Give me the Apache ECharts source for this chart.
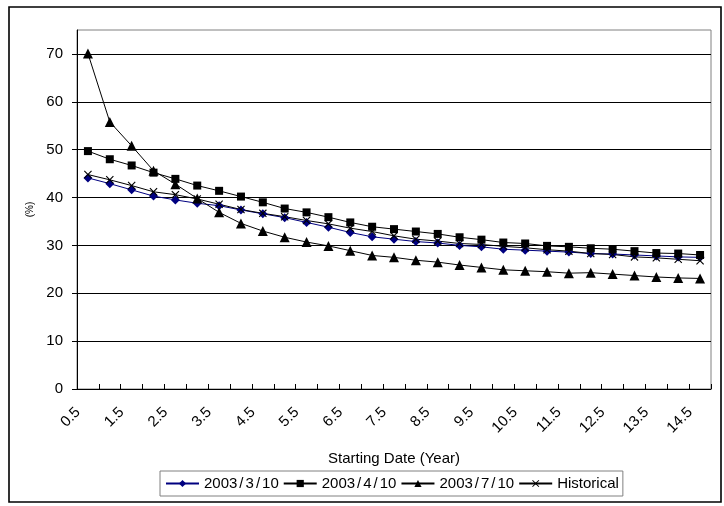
<!DOCTYPE html>
<html>
<head>
<meta charset="utf-8">
<script src="https://cdn.jsdelivr.net/npm/echarts@6/dist/echarts.min.js"></script>
<style>
  html, body { margin: 0; padding: 0; background: #fff; }
  #chart { width: 724px; height: 506px; }
</style>
</head>
<body>
<div id="chart"></div>
<script>
// Starting date (years) along the horizontal axis
const categories = ['0.5','1','1.5','2','2.5','3','3.5','4','4.5','5','5.5','6','6.5','7','7.5',
  '8','8.5','9','9.5','10','10.5','11','11.5','12','12.5','13','13.5','14','14.5'];

// Values in percent for each curve
const series0310 = [44.1,42.9,41.6,40.3,39.5,38.8,38.3,37.4,36.6,35.8,34.8,33.8,32.7,31.8,31.3,
  30.8,30.5,30.0,29.7,29.2,29.0,28.8,28.6,28.3,28.2,28.0,27.8,27.6,27.5];
const series0410 = [49.7,48.0,46.7,45.2,43.9,42.5,41.4,40.2,39.0,37.7,36.9,35.9,34.8,33.9,33.4,
  32.9,32.4,31.7,31.2,30.6,30.4,29.9,29.7,29.4,29.2,28.8,28.4,28.3,28.0];
const series0710 = [70.1,55.8,50.8,45.6,42.8,39.8,36.9,34.6,33.0,31.7,30.7,29.9,28.9,27.9,27.5,
  26.9,26.5,25.9,25.4,24.9,24.7,24.5,24.2,24.3,24.0,23.7,23.4,23.2,23.1];
const seriesHist = [44.8,43.7,42.5,41.2,40.6,39.7,38.6,37.5,36.7,36.0,35.2,34.5,33.6,32.9,32.0,
  31.3,30.9,30.4,30.2,29.8,29.5,29.1,28.8,28.3,28.1,27.6,27.4,27.1,26.8];

const seriesNames = ['2003/3/10', '2003/4/10', '2003/7/10', 'Historical'];
const yTicks = { min: 0, max: 75, step: 10 };

const FONT = "'Liberation Sans', Arial, sans-serif";
// Filled cross marker
const crossPath = 'path://M0,1L1,0L5,4L9,0L10,1L6,5L10,9L9,10L5,6L1,10L0,9L4,5Z';

function lineSeries(name, data, color, symbol, size) {
  return {
    name, type: 'line', data,
    symbol, symbolSize: size, showSymbol: true,
    lineStyle: { color, width: 1 },
    itemStyle: { color, borderWidth: 0 },
    emphasis: { disabled: true }
  };
}

const chart = echarts.init(document.getElementById('chart'), null, { renderer: 'canvas' });
chart.setOption({
  animation: false,
  backgroundColor: '#fff',
  textStyle: { fontFamily: FONT, color: '#000' },
  grid: {
    left: 77, right: 13, top: 30, bottom: 117,
    show: true, borderColor: '#808080', borderWidth: 1, backgroundColor: '#fff'
  },
  graphic: [{
    type: 'rect', silent: true, z: -10,
    shape: { x: 9, y: 7, width: 712, height: 495 },
    style: { fill: 'none', stroke: '#000', lineWidth: 1.6 }
  }],
  legend: {
    data: seriesNames,
    left: 160, top: 471,
    orient: 'horizontal',
    itemWidth: 33, itemHeight: 9, itemGap: 4,
    padding: [5, 4, 5, 5],
    borderColor: '#808080', borderWidth: 1, backgroundColor: '#fff',
    formatter: function (n) { return n.replace(/\//g, '{s|/}'); },
    textStyle: {
      fontFamily: FONT, fontSize: 15, color: '#000',
      rich: { s: { fontFamily: FONT, fontSize: 15, color: '#000', padding: [0, 2] } }
    }
  },
  xAxis: {
    type: 'category', data: categories, boundaryGap: true,
    name: 'Starting Date (Year)', nameLocation: 'middle', nameGap: 62,
    nameTextStyle: { fontFamily: FONT, fontSize: 15, color: '#000' },
    axisLine: { lineStyle: { color: '#000', width: 1 } },
    axisTick: { show: true, inside: true, length: 5, interval: 0, lineStyle: { color: '#000' } },
    axisLabel: {
      interval: 1, rotate: 45, margin: 11, padding: [0, 14, 0, 0],
      fontFamily: FONT, fontSize: 15, color: '#000'
    },
    splitLine: { show: false }
  },
  yAxis: {
    type: 'value', min: yTicks.min, max: yTicks.max, interval: yTicks.step,
    name: '(%)', nameLocation: 'middle', nameGap: 42, nameRotate: 90,
    nameTextStyle: { fontFamily: FONT, fontSize: 10, color: '#000' },
    axisLine: { show: true, lineStyle: { color: '#000', width: 1 } },
    axisTick: { show: true, inside: false, length: 5, lineStyle: { color: '#000' } },
    axisLabel: {
      margin: 14, fontFamily: FONT, fontSize: 15, color: '#000', showMaxLabel: false,
      formatter: function (v) { return v === yTicks.max ? '' : String(v); }
    },
    splitLine: { show: true, showMaxLine: false, lineStyle: { color: '#000', width: 1 } }
  },
  series: [
    lineSeries(seriesNames[0], series0310, '#000080', 'diamond', 9),
    lineSeries(seriesNames[1], series0410, '#000000', 'rect', 8),
    lineSeries(seriesNames[2], series0710, '#000000', 'triangle', 10),
    lineSeries(seriesNames[3], seriesHist, '#000000', crossPath, 8)
  ]
});
</script>
</body>
</html>
